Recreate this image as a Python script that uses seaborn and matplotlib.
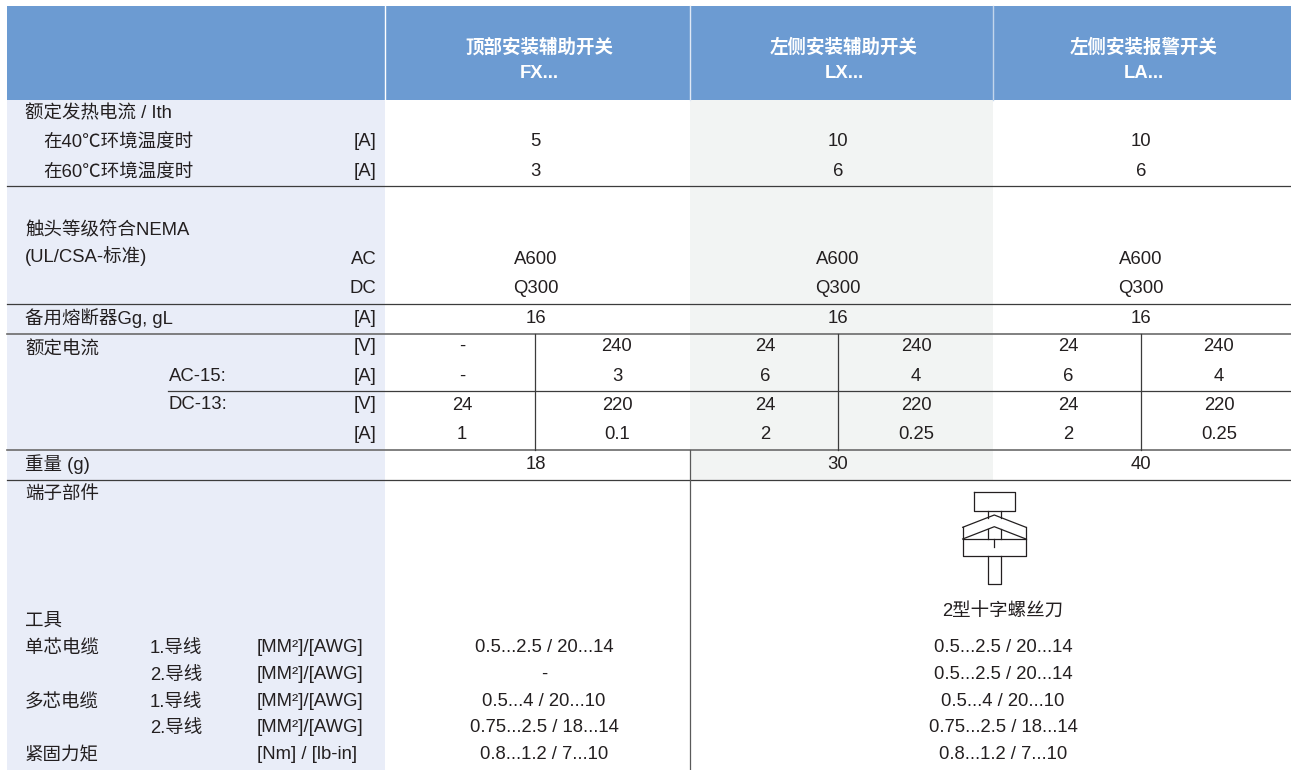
import numpy as np
import matplotlib as mpl
mpl.use('Agg')
import matplotlib.pyplot as plt
from matplotlib.colors import ListedColormap
import seaborn as sns

plt.rcParams['font.family'] = ['Liberation Sans', 'Noto Sans CJK SC']

# table content
header_names = ["顶部安装辅助开关", "左侧安装辅助开关", "左侧安装报警开关"]
header_codes = ["FX...", "LX...", "LA..."]

ith_40 = ["5", "10", "10"]
ith_60 = ["3", "6", "6"]
nema_ac = ["A600", "A600", "A600"]
nema_dc = ["Q300", "Q300", "Q300"]
fuse = ["16", "16", "16"]
weight = ["18", "30", "40"]

ac15_v = ["-", "240", "24", "240", "24", "240"]
ac15_a = ["-", "3", "6", "4", "6", "4"]
dc13_v = ["24", "220", "24", "220", "24", "220"]
dc13_a = ["1", "0.1", "2", "0.25", "2", "0.25"]

wire_fx = ["0.5...2.5 / 20...14", "-", "0.5...4 / 20...10", "0.75...2.5 / 18...14", "0.8...1.2 / 7...10"]
wire_lx = ["0.5...2.5 / 20...14", "0.5...2.5 / 20...14", "0.5...4 / 20...10", "0.75...2.5 / 18...14", "0.8...1.2 / 7...10"]
wire_names = ["单芯电缆", "", "多芯电缆", "", "紧固力矩"]
wire_cores = ["1.导线", "2.导线", "1.导线", "2.导线", ""]
wire_units = ["[MM²]/[AWG]", "[MM²]/[AWG]", "[MM²]/[AWG]", "[MM²]/[AWG]", "[Nm] / [lb-in]"]

# layout in image pixels
W, H = 1291, 770
col_x = [535.5, 838, 1141]
sub_x = [462, 617, 765, 916, 1068, 1219]
wire_x = [544, 1003]
wire_y = [646, 673, 700, 726, 753]
ink = '#231f20'
rule = '#3c3c3c'
fs = 13.3

# background regions: white, left pane, grey column, header
regions = np.zeros((H, W), dtype=int)
regions[100:, 7:385] = 1
regions[100:480, 690:993] = 2
regions[6:100, 7:] = 3

fig = plt.figure(figsize=(W / 100, H / 100), dpi=100)
ax = fig.add_axes([0, 0, 1, 1])
sns.heatmap(regions, ax=ax, cmap=ListedColormap(['#ffffff', '#e9edf8', '#f2f4f3', '#6c9bd2']),
            vmin=0, vmax=3, cbar=False, xticklabels=False, yticklabels=False)
ax.axis('off')


def put(x, y, s, ha='center', **kw):
    kw.setdefault('color', ink)
    kw.setdefault('fontsize', fs)
    # y is the row centre, text sits on a shared baseline
    ax.text(x, y + 6, s, ha=ha, va='baseline', **kw)


def label(x, y, s):
    # chinese labels sit a bit lower than the numbers
    put(x, y + 1.2, s, ha='left')


# header
for x, name, code in zip([539, 844, 1144], header_names, header_codes):
    put(x, 47, name, color='white', fontweight='bold')
    put(x, 72, code, color='white', fontweight='bold')
ax.plot([385, 385], [6, 100], color='#ffffff', lw=1)
ax.plot([689.5, 689.5], [6, 100], color='#dfe8f5', lw=1)
ax.plot([993, 993], [6, 100], color='#c3d6ec', lw=1)

# left column
label(25, 111, "额定发热电流 / Ith")
label(43, 140, "在40℃环境温度时")
label(43, 170, "在60℃环境温度时")
label(25, 228, "触头等级符合NEMA")
label(25, 255, "(UL/CSA-标准)")
label(25, 317, "备用熔断器Gg, gL")
label(25, 347, "额定电流")
put(169, 375, "AC-15:", ha='left')
put(169, 403, "DC-13:", ha='left')
label(25, 463, "重量 (g)")
label(25, 492, "端子部件")
label(25, 619, "工具")
for y, s in zip([140, 170, 258, 287, 317, 345, 375, 403, 433],
                ["[A]", "[A]", "AC", "DC", "[A]", "[V]", "[A]", "[V]", "[A]"]):
    put(376.5, y, s, ha='right')
for y, a, b, c in zip(wire_y, wire_names, wire_cores, wire_units):
    label(25, y, a)
    label(150, y, b)
    put(257, y, c, ha='left')

# value cells
for y, row in zip([140, 170, 258, 287, 317, 463], [ith_40, ith_60, nema_ac, nema_dc, fuse, weight]):
    for x, s in zip(col_x, row):
        put(x, y, s)
for y, row in zip([345, 375, 404, 433], [ac15_v, ac15_a, dc13_v, dc13_a]):
    for x, s in zip(sub_x, row):
        put(x, y, s)
for y, a, b in zip(wire_y, wire_fx, wire_lx):
    put(wire_x[0], y, a)
    put(wire_x[1], y, b)
put(1003, 611, "2型十字螺丝刀")

# rules
for y, c, lw in [(186, rule, 0.9), (303.5, rule, 0.9), (333.5, '#6b6b6b', 1.2),
                 (450, '#6b6b6b', 1.2), (479.5, rule, 0.9)]:
    ax.plot([7, W], [y, y], color=c, lw=lw)
ax.plot([168, W], [390.5, 390.5], color=rule, lw=0.9)
for x in [535, 838, 1141]:
    ax.plot([x, x], [333.5, 450], color=rule, lw=0.9)
ax.plot([690, 690], [450, H], color='#5a5a5a', lw=0.9)

# terminal screw icon
screw = [
    ([973.7, 1015, 1015, 973.7, 973.7], [492.3, 492.3, 510.7, 510.7, 492.3]),
    ([987.7, 987.7], [510.7, 517.6]),
    ([1001, 1001], [510.7, 517.6]),
    ([962.7, 994.3, 1026], [527.3, 515, 527.3]),
    ([962.7, 994.3, 1026], [539, 526.7, 539]),
    ([962.7, 962.7, 1026, 1026], [527.3, 555.7, 555.7, 527.3]),
    ([962.7, 1026], [539, 539]),
    ([987.7, 987.7], [529.3, 539]),
    ([1001, 1001], [529.3, 539]),
    ([994.3, 994.3], [539, 547]),
    ([987.7, 987.7, 1001, 1001], [555.7, 584.3, 584.3, 555.7]),
]
for xs, ys in screw:
    ax.plot(xs, ys, color=ink, lw=0.9)

ax.set_xlim(0, W)
ax.set_ylim(H, 0)
fig.savefig('out.png', dpi=100)
